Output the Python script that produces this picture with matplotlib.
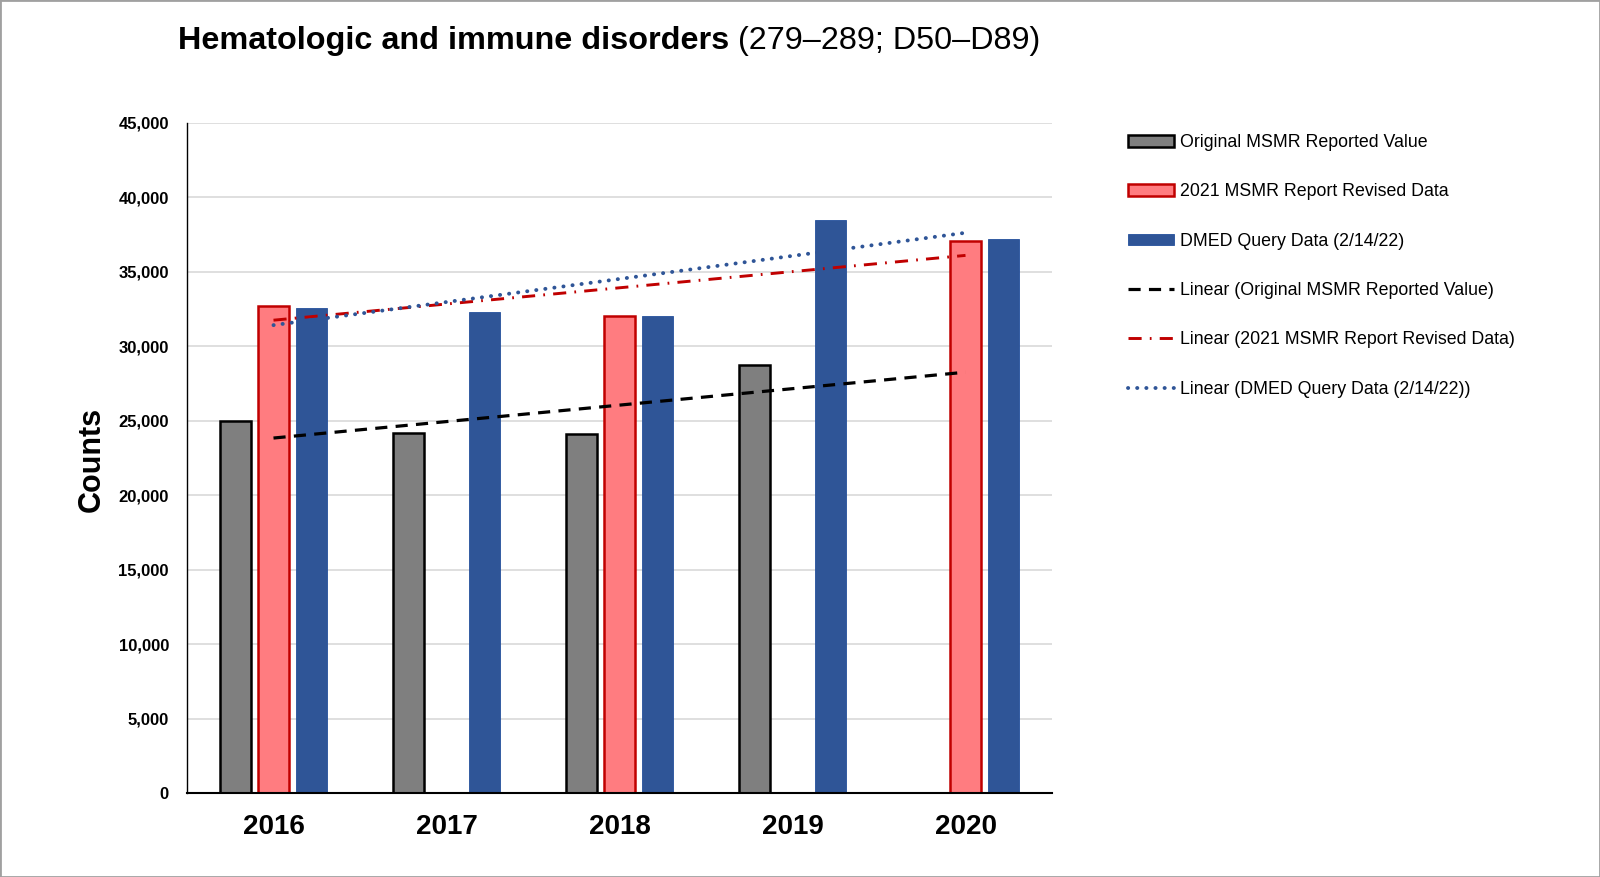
import numpy as np
import matplotlib
matplotlib.use('Agg')
import matplotlib.pyplot as plt
from matplotlib.patches import Rectangle, Patch
from matplotlib.lines import Line2D
from matplotlib.ticker import FuncFormatter

plt.rcParams['font.family'] = ['Liberation Sans', 'DejaVu Sans']

# data
years = ['2016', '2017', '2018', '2019', '2020']
original = [25000, 24150, 24100, 28700, np.nan]
revised = [32700, np.nan, 32000, np.nan, 37050]
dmed = [32550, 32300, 32000, 38500, 37200]

lab_orig = 'Original MSMR Reported Value'
lab_rev = '2021 MSMR Report Revised Data'
lab_dmed = 'DMED Query Data (2/14/22)'

x = np.arange(len(years))


def trend(vals):
    v = np.array(vals, dtype=float)
    ok = ~np.isnan(v)
    k, b = np.polyfit(x[ok], v[ok], 1)
    return k * x + b


fig = plt.figure(figsize=(16, 8.77), dpi=100)
ax = fig.add_axes([187 / 1600, 1 - 793 / 877, 865 / 1600, 670.3 / 877])

w = 0.18
off = 0.22
series = [
    (original, -off, '#7f7f7f', 'black', 1.8),
    (revised, 0.0, '#ff7c80', '#c00000', 1.8),
    (dmed, off, '#2f5597', '#24509c', 0.6),
]
for vals, dx, fc, ec, lw in series:
    v = np.array(vals, dtype=float)
    ok = ~np.isnan(v)
    ax.bar(x[ok] + dx, v[ok], width=w, color=fc, edgecolor=ec, linewidth=lw, zorder=2)

# linear trendlines
ls_black = (0, (3.8, 2.6))
ls_red = (0, (4.5, 2.8, 0.6, 2.8))
ls_blue = (0, (0.05, 2.3))
ax.plot(x, trend(original), color='black', lw=2.3, linestyle=ls_black, zorder=3)
ax.plot(x, trend(revised), color='#c00000', lw=2.1, linestyle=ls_red, zorder=3)
ax.plot(x, trend(dmed), color='#2f5597', lw=2.8, linestyle=ls_blue,
        dash_capstyle='round', zorder=3)

ax.set_xlim(-0.5, 4.5)
ax.set_ylim(0, 45000)
ax.set_yticks(np.arange(0, 45001, 5000))
ax.yaxis.set_major_formatter(FuncFormatter(lambda v, p: f'{int(v):,}'))
ax.set_xticks(x)
ax.set_xticklabels(years, fontsize=20, fontweight='bold')
for t in ax.get_yticklabels():
    t.set_fontsize(12)
    t.set_fontweight('bold')
ax.tick_params(axis='both', length=0)
ax.tick_params(axis='x', pad=15)
ax.tick_params(axis='y', pad=13)
ax.grid(axis='y', color='#d9d9d9', lw=1.2, zorder=0)
ax.set_axisbelow(True)
for s in ['top', 'right']:
    ax.spines[s].set_visible(False)
ax.spines['left'].set_linewidth(1.0)
ax.spines['bottom'].set_linewidth(1.5)

fig.text(92 / 1600, 1 - 459 / 877, 'Counts', rotation=90, fontsize=22,
         fontweight='bold', ha='center', va='center')

# title: bold part + regular part
r = fig.canvas.get_renderer()
t1 = fig.text(178 / 1600, 1 - 41 / 877, 'Hematologic and immune disorders',
              fontsize=23.3, fontweight='bold', va='center')
bb = t1.get_window_extent(r)
fig.text(bb.x1 / fig.bbox.width, 1 - 41 / 877, ' (279\u2013289; D50\u2013D89)',
         fontsize=23.3, va='center')

handles = [
    Patch(facecolor='#7f7f7f', edgecolor='black', linewidth=1.8),
    Patch(facecolor='#ff7c80', edgecolor='#c00000', linewidth=1.8),
    Patch(facecolor='#2f5597', edgecolor='#24509c', linewidth=0.6),
    Line2D([], [], color='black', lw=2.3, linestyle=ls_black),
    Line2D([], [], color='#c00000', lw=2.1, linestyle=ls_red),
    Line2D([], [], color='#2f5597', lw=2.8, linestyle=ls_blue, dash_capstyle='round'),
]
labels = [lab_orig, lab_rev, lab_dmed,
          'Linear (' + lab_orig + ')', 'Linear (' + lab_rev + ')', 'Linear (' + lab_dmed + ')']
fig.legend(handles, labels, loc='upper left', bbox_to_anchor=(1128 / 1600, 1 - 134 / 877),
           frameon=False, fontsize=12.8, handlelength=2.6, handleheight=0.65,
           handletextpad=0.35, labelspacing=1.82, borderpad=0, borderaxespad=0)

fig.patches.append(Rectangle((0, 0), 1, 1, transform=fig.transFigure, fill=False,
                             edgecolor='#a0a0a0', lw=2))

fig.savefig('out.png', dpi=100)
